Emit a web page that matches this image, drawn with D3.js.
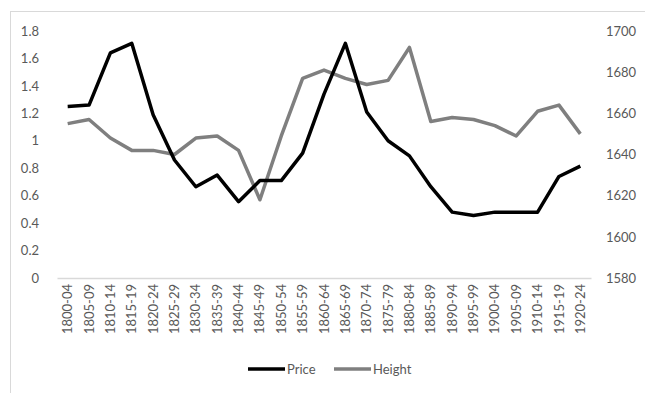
<!DOCTYPE html>
<html><head><meta charset="utf-8">
<script src="https://cdn.jsdelivr.net/npm/d3@7"></script>
<style>
html,body{margin:0;padding:0;background:#fff;}
svg{display:block;font-family:Lato,"Open Sans",sans-serif;}
</style></head>
<body><svg id="c" width="645" height="393"></svg>
<script>
const categories = ["1800-04","1805-09","1810-14","1815-19","1820-24","1825-29","1830-34","1835-39","1840-44","1845-49","1850-54","1855-59","1860-64","1865-69","1870-74","1875-79","1880-84","1885-89","1890-94","1895-99","1900-04","1905-09","1910-14","1915-19","1920-24"];
const price = [1.25,1.26,1.64,1.71,1.19,0.86,0.665,0.75,0.556,0.71,0.71,0.91,1.34,1.71,1.21,1.0,0.89,0.665,0.48,0.455,0.48,0.48,0.48,0.74,0.815];
const height = [1655,1657,1648,1642,1642,1640,1648,1649,1642,1618,1649,1677,1681,1677,1674,1676,1692,1656,1658,1657,1654,1649,1661,1664,1650];
const leftTicks = [0,0.2,0.4,0.6,0.8,1,1.2,1.4,1.6,1.8];
const rightTicks = [1580,1600,1620,1640,1660,1680,1700];

const svg = d3.select("#c");
const L=57, R=591, T=31, B=278;
const x = d3.scaleBand().domain(categories).range([L,R]);
const yL = d3.scaleLinear().domain([0,1.8]).range([B,T]);
const yR = d3.scaleLinear().domain([1580,1700]).range([B,T]);
const txt = "#595959";

// chart border
svg.append("rect").attr("x",10.5).attr("y",11.5).attr("width",700).attr("height",500)
  .attr("fill","none").attr("stroke","#d9d9d9");

// left axis labels
const ga = svg.append("g").attr("transform",`translate(${L-15},0)`)
  .call(d3.axisLeft(yL).tickValues(leftTicks).tickSize(0).tickFormat(d=>d3.format("~g")(d)));
ga.select(".domain").remove();
ga.selectAll("text").attr("fill",txt).attr("font-size",13).attr("font-family","Lato");

const gr = svg.append("g").attr("transform",`translate(${R+15},0)`)
  .call(d3.axisRight(yR).tickValues(rightTicks).tickSize(0).tickFormat(d3.format("d")));
gr.select(".domain").remove();
gr.selectAll("text").attr("fill",txt).attr("font-size",13).attr("font-family","Lato").attr("x",0);

// x axis
const gx = svg.append("g").attr("transform",`translate(0,${B})`)
  .call(d3.axisBottom(x).tickSize(0));
gx.select(".domain").attr("stroke","#d9d9d9").attr("stroke-width",1.5);
gx.selectAll("text").attr("fill",txt).attr("font-size",13).attr("font-family","Lato")
  .attr("transform","rotate(-90)").attr("text-anchor","end")
  .attr("x",-6).attr("y",0).attr("dy","0.35em");

// lines
const cx = d=>x(d)+x.bandwidth()/2;
const lineP = d3.line().x((d,i)=>cx(categories[i])).y(d=>yL(d));
const lineH = d3.line().x((d,i)=>cx(categories[i])).y(d=>yR(d));
svg.append("path").datum(height).attr("d",lineH).attr("fill","none")
  .attr("stroke","#7f7f7f").attr("stroke-width",3.5).attr("stroke-linejoin","round");
svg.append("path").datum(price).attr("d",lineP).attr("fill","none")
  .attr("stroke","#000").attr("stroke-width",3.5).attr("stroke-linejoin","round");

// legend
const legend = [{name:"Price",color:"#000",x:248},{name:"Height",color:"#7f7f7f",x:334}];
const lg = svg.append("g");
legend.forEach(l=>{
  lg.append("line").attr("x1",l.x).attr("x2",l.x+37).attr("y1",369).attr("y2",369)
    .attr("stroke",l.color).attr("stroke-width",3.5);
  lg.append("text").attr("x",l.x+39).attr("y",369).attr("dy","0.35em")
    .attr("fill",txt).attr("font-size",13).attr("font-family","Lato").text(l.name);
});
</script></body></html>
